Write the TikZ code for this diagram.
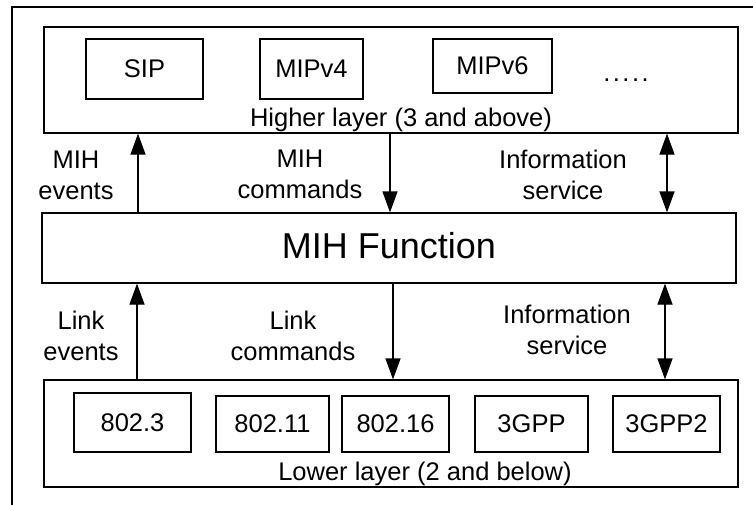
\documentclass[tikz,border=0pt]{standalone}
\usepackage{fontspec}
\setmainfont{Liberation Sans}
\usetikzlibrary{arrows.meta}
\begin{document}
\begin{tikzpicture}[x=1pt,y=-1pt,
  every node/.style={font=\fontsize{25.5}{31}\selectfont, inner sep=0pt},
  layerbox/.style={draw, line width=1.2pt, minimum width=694pt},
  protobox/.style={draw, line width=1.2pt},
  lbl/.style={align=center, anchor=base},
  arr/.style={line width=1.2pt, -{Triangle[length=21pt,width=15pt]}},
  dblarr/.style={line width=1.2pt, {Triangle[length=21pt,width=15pt]}-{Triangle[length=21pt,width=15pt]}}]
\useasboundingbox (0,0) rectangle (753,504);
\clip (0,0) rectangle (753,504);
% outer frame (extends past the page on the right and bottom)
\coordinate (fa) at (12,520);
\coordinate (fb) at (12,7);
\coordinate (fc) at (770,7);
\draw[line width=1.2pt] (fa) -- (fb) -- (fc);

% higher layer
\node[layerbox, minimum height=106pt] (hl) at (391,80) {};
\node[protobox, minimum width=117pt, minimum height=60pt] (sip) at (144.5,69) {SIP};
\node[protobox, minimum width=103pt, minimum height=60pt] (mip4) at (311.5,69) {MIPv4};
\node[protobox, minimum width=119pt, minimum height=54pt] (mip6) at (492.5,66) {MIPv6};
\node[anchor=base] (dots) at (626,81) {.\kern2.5pt.\kern2.5pt.\kern2.5pt.\kern2.5pt.};
\node[anchor=base] (hltxt) at (401,126) {Higher layer (3 and above)};

% MIH function
\node[layerbox, minimum height=70pt] (mf) at (389,248) {};
\node[anchor=base, font=\fontsize{36}{40}\selectfont] (mftxt) at (389,258) {MIH Function};

% lower layer
\node[layerbox, minimum height=107pt] (ll) at (391,433.5) {};
\node[protobox, minimum width=117pt, minimum height=59pt] (e3) at (132.5,422.5) {802.3};
\node[protobox, minimum width=113pt, minimum height=56pt] (e11) at (272.5,424) {802.11};
\node[protobox, minimum width=107pt, minimum height=56pt] (e16) at (395.5,424) {802.16};
\node[protobox, minimum width=113pt, minimum height=56pt] (g3) at (531.5,424) {3GPP};
\node[protobox, minimum width=107pt, minimum height=56pt] (g32) at (666.5,424) {3GPP2};
\node[anchor=base] (lltxt) at (425,480) {Lower layer (2 and below)};

% arrow columns
\coordinate (ua) at (138,0);
\coordinate (ub) at (390,0);
\coordinate (uc) at (667,0);
\coordinate (da) at (137,0);
\coordinate (db) at (393,0);
\coordinate (dc) at (665,0);

% upper connectors (label anchors sit on the baseline of the second line)
\draw[arr] (mf.north -| ua) -- (hl.south -| ua);
\draw[arr] (hl.south -| ub) -- (mf.north -| ub);
\draw[dblarr] (hl.south -| uc) -- (mf.north -| uc);
\node[lbl] (l1) at (76,199) {MIH\\events};
\node[lbl] (l2) at (300,198) {MIH\\commands};
\node[lbl] (l3) at (563,199) {Information\\service};

% lower connectors
\draw[arr] (ll.north -| da) -- (mf.south -| da);
\draw[arr] (mf.south -| db) -- (ll.north -| db);
\draw[dblarr] (mf.south -| dc) -- (ll.north -| dc);
\node[lbl] (l4) at (81,360) {Link\\events};
\node[lbl] (l5) at (293,360) {Link\\commands};
\node[lbl] (l6) at (567,354) {Information\\service};
\end{tikzpicture}
\end{document}
